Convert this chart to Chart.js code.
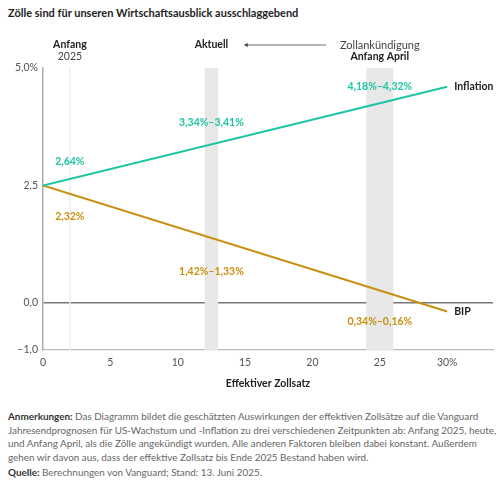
<!DOCTYPE html>
<html>
<head>
<meta charset="utf-8">
<script src="https://cdn.jsdelivr.net/npm/chart.js@4"></script>
<style>
  html, body { margin: 0; padding: 0; background: #fff; }
  body { width: 500px; height: 489px; position: relative; overflow: hidden; font-family: Lato, sans-serif; }
  #title { position: absolute; left: 8px; top: 6px; font-size: 11px; font-weight: 700; color: #222; }
  #wrap { position: absolute; left: 0; top: 0; width: 500px; height: 395px; }
  #notes { position: absolute; left: 8px; top: 410px; width: 492px; font-size: 9.9px; line-height: 13.5px; color: #666; white-space: nowrap; }
  #notes b { color: #333; font-weight: 700; }
  #notes p { margin: 0; }
  #notes p + p { margin-top: 2px; }
</style>
</head>
<body>
<div id="title">Zölle sind für unseren Wirtschaftsausblick ausschlaggebend</div>
<div id="wrap"><canvas id="chart"></canvas></div>
<div id="notes">
  <p><b>Anmerkungen:</b> Das Diagramm bildet die geschätzten Auswirkungen der effektiven Zollsätze auf die Vanguard<br>Jahresendprognosen für US-Wachstum und -Inflation zu drei verschiedenen Zeitpunkten ab: Anfang 2025, heute,<br>und Anfang April, als die Zölle angekündigt wurden. Alle anderen Faktoren bleiben dabei konstant. Außerdem<br>gehen wir davon aus, dass der effektive Zollsatz bis Ende 2025 Bestand haben wird.</p>
  <p><b>Quelle:</b> Berechnungen von Vanguard; Stand: 13. Juni 2025.</p>
</div>
<script>
// Daten
const zollsatz = [0, 30];
const inflation = [2.5, 4.6];
const bip = [2.5, -0.18];

const yTickValues = [-1, 0, 2.5, 5];
const yTickLabels = ['–1,0', '0,0', '2,5', '5,0%'];
const xTickValues = [0, 5, 10, 15, 20, 25, 30];
const xTickLabels = ['0', '5', '10', '15', '20', '25', '30%'];

// Zeitpunkte: Anfang 2025, Aktuell, Anfang April
const zeitpunkte = [2, 12.5, 25];
const aktuellBand = [12, 13];
const aprilBand = [24, 26];
const inflationLabels = ['2,64%', '3,34%–3,41%', '4,18%–4,32%'];
const bipLabels = ['2,32%', '1,42%–1,33%', '0,34%–0,16%'];

const TEAL = '#1fc4a3';
const GOLD = '#c89010';
const FONT = 'Lato, sans-serif';

// Hintergrund: Bänder und Linie bei Anfang 2025
const bandsPlugin = {
  id: 'bands',
  beforeDatasetsDraw(chart) {
    const { ctx, chartArea: a, scales: { x } } = chart;
    ctx.save();
    ctx.fillStyle = '#e8e8e8';
    [aktuellBand, aprilBand].forEach(b => {
      const x1 = x.getPixelForValue(b[0]);
      const x2 = x.getPixelForValue(b[1]);
      ctx.fillRect(x1, a.top, x2 - x1, a.bottom - a.top);
    });
    ctx.strokeStyle = '#eeeeee';
    ctx.lineWidth = 1.5;
    const xs = x.getPixelForValue(zeitpunkte[0]);
    ctx.beginPath();
    ctx.moveTo(xs, a.top);
    ctx.lineTo(xs, a.bottom);
    ctx.stroke();
    ctx.restore();
  }
};

// Beschriftungen
const labelsPlugin = {
  id: 'labels',
  afterDatasetsDraw(chart) {
    const { ctx, scales: { x, y } } = chart;
    const bold = '700 10.5px ' + FONT;
    const normal = '400 10.5px ' + FONT;
    ctx.save();
    ctx.textBaseline = 'middle';
    ctx.textAlign = 'center';

    // Kopfzeile
    const px0 = x.getPixelForValue(zeitpunkte[0]);
    const px1 = x.getPixelForValue(zeitpunkte[1]);
    const px2 = x.getPixelForValue(zeitpunkte[2]);
    ctx.fillStyle = '#222';
    ctx.font = bold;
    ctx.fillText('Anfang', px0, 45);
    ctx.fillText('Aktuell', px1, 45);
    ctx.fillText('Anfang April', px2, 57);
    ctx.font = normal;
    ctx.fillStyle = '#444';
    ctx.fillText('2025', px0, 57);
    ctx.font = '400 11px ' + FONT;
    ctx.fillText('Zollankündigung', px2, 45);

    // Pfeil
    const ax1 = x.getPixelForValue(21);
    const ax2 = x.getPixelForValue(14.9);
    ctx.strokeStyle = '#444';
    ctx.fillStyle = '#444';
    ctx.lineWidth = 0.8;
    ctx.beginPath();
    ctx.moveTo(ax1, 45);
    ctx.lineTo(ax2 + 3, 45);
    ctx.stroke();
    ctx.beginPath();
    ctx.moveTo(ax2, 45);
    ctx.lineTo(ax2 + 4, 43);
    ctx.lineTo(ax2 + 4, 47);
    ctx.closePath();
    ctx.fill();

    // Werte entlang der Linien
    ctx.font = '700 10.5px ' + FONT;
    const infAt = v => inflation[0] + (inflation[1] - inflation[0]) * v / zollsatz[1];
    const bipAt = v => bip[0] + (bip[1] - bip[0]) * v / zollsatz[1];

    ctx.fillStyle = TEAL;
    ctx.textAlign = 'left';
    ctx.fillText(inflationLabels[0], x.getPixelForValue(0.9), y.getPixelForValue(infAt(0)) - 24);
    ctx.textAlign = 'center';
    ctx.fillText(inflationLabels[1], px1, y.getPixelForValue(infAt(zeitpunkte[1])) - 22);
    ctx.fillText(inflationLabels[2], px2, y.getPixelForValue(infAt(zeitpunkte[2])) - 17);

    ctx.fillStyle = GOLD;
    ctx.textAlign = 'left';
    ctx.fillText(bipLabels[0], x.getPixelForValue(0.9), y.getPixelForValue(bipAt(0)) + 31);
    ctx.textAlign = 'center';
    ctx.fillText(bipLabels[1], px1, y.getPixelForValue(bipAt(zeitpunkte[1])) + 34);
    ctx.fillText(bipLabels[2], px2, y.getPixelForValue(bipAt(zeitpunkte[2])) + 31);

    // Serien-Namen am Linienende
    ctx.fillStyle = '#222';
    ctx.textAlign = 'left';
    const xe = x.getPixelForValue(zollsatz[1]) + 7;
    ctx.fillText('Inflation', xe, y.getPixelForValue(inflation[1]));
    ctx.fillText('BIP', xe, y.getPixelForValue(bip[1]));
    ctx.restore();
  }
};

new Chart(document.getElementById('chart'), {
  type: 'line',
  data: {
    labels: zollsatz,
    datasets: [
      {
        label: 'Inflation',
        data: zollsatz.map((v, i) => ({ x: v, y: inflation[i] })),
        borderColor: TEAL,
        borderWidth: 2,
        pointRadius: 0,
        fill: false
      },
      {
        label: 'BIP',
        data: zollsatz.map((v, i) => ({ x: v, y: bip[i] })),
        borderColor: GOLD,
        borderWidth: 2,
        pointRadius: 0,
        fill: false
      }
    ]
  },
  options: {
    responsive: true,
    maintainAspectRatio: false,
    animation: false,
    layout: { padding: { top: 68, right: 7, left: 0, bottom: 0 } },
    plugins: {
      legend: { display: false },
      tooltip: { enabled: false }
    },
    scales: {
      x: {
        type: 'linear',
        min: 0,
        max: 33.4,
        afterBuildTicks: s => { s.ticks = xTickValues.map(v => ({ value: v })); },
        afterFit: s => { s.height = 45; },
        grid: { display: false, drawTicks: false },
        border: { color: '#bbbbbb', width: 1.2 },
        ticks: {
          padding: 6,
          color: '#555',
          font: { family: FONT, size: 10.5 },
          callback: v => xTickLabels[xTickValues.indexOf(v)]
        },
        title: {
          display: true,
          text: 'Effektiver Zollsatz',
          color: '#222',
          font: { family: FONT, size: 10.5, weight: '700' },
          padding: { top: 0, bottom: 5 }
        }
      },
      y: {
        min: -1,
        max: 5,
        afterBuildTicks: s => { s.ticks = yTickValues.map(v => ({ value: v })); },
        afterFit: s => { s.width = 43; },
        grid: {
          drawTicks: false,
          lineWidth: 1.5,
          color: c => (c.tick && c.tick.value === 0 ? '#777777' : 'rgba(0,0,0,0)')
        },
        border: { color: '#aaaaaa', width: 1.5 },
        ticks: {
          padding: 5,
          color: '#555',
          font: { family: FONT, size: 10.5 },
          callback: v => yTickLabels[yTickValues.indexOf(v)]
        }
      }
    }
  },
  plugins: [bandsPlugin, labelsPlugin]
});
</script>
</body>
</html>
